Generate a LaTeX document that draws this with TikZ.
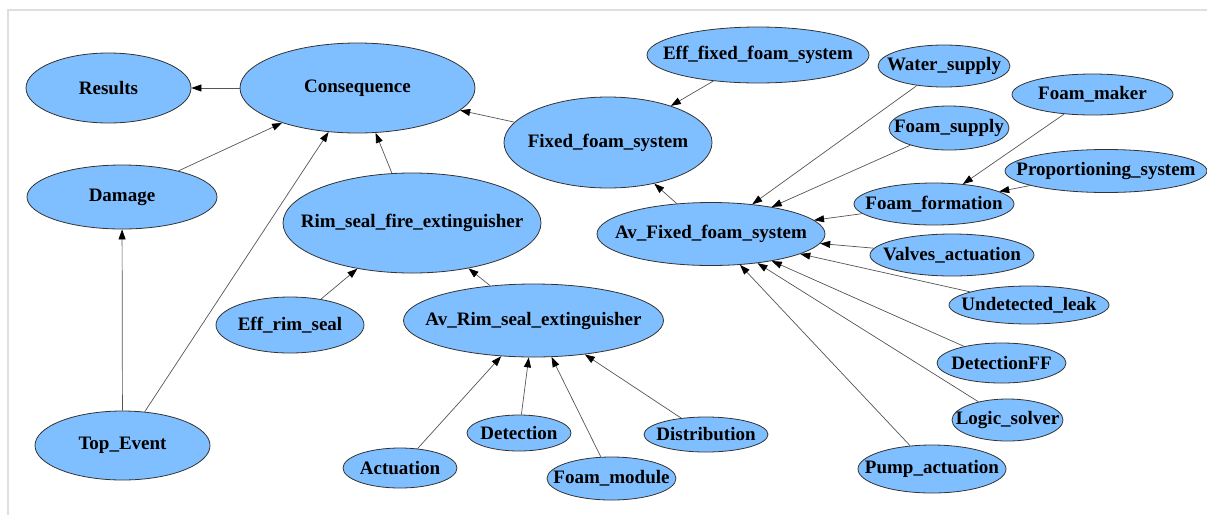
\documentclass[tikz,border=0pt]{standalone}
\usepackage{fontspec}
\setmainfont{Liberation Serif}
\usetikzlibrary{shapes.geometric, arrows.meta}

\definecolor{bnfill}{RGB}{128,191,255}
\definecolor{bnedge}{RGB}{85,85,85}
\newcommand{\bnlabel}[1]{\makebox[0pt]{#1}}

\begin{document}
\begin{tikzpicture}[x=1pt, y=-1pt,
    bn/.style 2 args={ellipse, draw=black!80, line width=0.8pt, fill=bnfill, inner sep=0pt,
      minimum width=#1, minimum height=#2, font=\bfseries\fontsize{19}{21}\selectfont},
    dep/.style={draw=bnedge, line width=0.7pt, -{Triangle[length=10pt, width=7pt, color=black]}}]
  %tikz  rete bayesiana, schiuma serbatoio
  \useasboundingbox (0,0) rectangle (1207,515);
  \draw[gray!25, line width=1.5pt] (8,515) -- (8,10) -- (1207,10);

  % left part
  \node[bn={165pt}{70pt}] (results) at (108.5,88) {\bnlabel{Results}};
  \node[bn={235pt}{90pt}] (consequence) at (357.5,88) {\bnlabel{Consequence}};
  \node[bn={190pt}{64pt}] (damage) at (122,197) {\bnlabel{Damage}};
  \node[bn={175pt}{69pt}] (topevent) at (122.5,445.5) {\bnlabel{Top\_Event}};
  \node[bn={258pt}{100pt}] (rimfire) at (412,223) {\bnlabel{Rim\_seal\_fire\_extinguisher}};
  \node[bn={148pt}{56pt}] (effrim) at (290,325) {\bnlabel{Eff\_rim\_seal}};
  \node[bn={260pt}{73pt}] (avrim) at (533.5,320.5) {\bnlabel{Av\_Rim\_seal\_extinguisher}};
  \node[bn={114pt}{40pt}] (actuation) at (400,468) {\bnlabel{Actuation}};
  \node[bn={104pt}{36pt}] (detection) at (519,433) {\bnlabel{Detection}};
  \node[bn={129pt}{43pt}] (foammodule) at (611.5,478.5) {\bnlabel{Foam\_module}};
  \node[bn={124pt}{35pt}] (distribution) at (706,434.5) {\bnlabel{Distribution}};

  % right part
  \node[bn={208pt}{91pt}] (fixedfoam) at (608,142.5) {\bnlabel{Fixed\_foam\_system}};
  \node[bn={222pt}{56pt}] (efffixed) at (758,55) {\bnlabel{Eff\_fixed\_foam\_system}};
  \node[bn={228pt}{63pt}] (avfixed) at (711,234) {\bnlabel{Av\_Fixed\_foam\_system}};
  \node[bn={132pt}{42pt}] (water) at (944,66) {\bnlabel{Water\_supply}};
  \node[bn={161pt}{41pt}] (foammaker) at (1092.5,94.5) {\bnlabel{Foam\_maker}};
  \node[bn={120pt}{44pt}] (foamsupply) at (949,128) {\bnlabel{Foam\_supply}};
  \node[bn={202pt}{43pt}] (proportioning) at (1106,171) {\bnlabel{Proportioning\_system}};
  \node[bn={160pt}{42pt}] (foamformation) at (934,204) {\bnlabel{Foam\_formation}};
  \node[bn={164pt}{42pt}] (valves) at (952,255) {\bnlabel{Valves\_actuation}};
  \node[bn={160pt}{38pt}] (leak) at (1029,305) {\bnlabel{Undetected\_leak}};
  \node[bn={129pt}{40pt}] (detectionff) at (1001.5,363) {\bnlabel{DetectionFF}};
  \node[bn={111pt}{42pt}] (logic) at (1007.5,420) {\bnlabel{Logic\_solver}};
  \node[bn={148pt}{48pt}] (pump) at (932,469) {\bnlabel{Pump\_actuation}};

  % dipendenze
  \draw[dep] (consequence) -- (results);
  \draw[dep] (topevent) -- (damage);
  \foreach \s in {damage,topevent,rimfire,fixedfoam}{
    \draw[dep] (\s) -- (consequence);
  }
  \foreach \s in {effrim,avrim}{
    \draw[dep] (\s) -- (rimfire);
  }
  \foreach \s in {actuation,detection,foammodule,distribution}{
    \draw[dep] (\s) -- (avrim);
  }
  \foreach \s in {efffixed,avfixed}{
    \draw[dep] (\s) -- (fixedfoam);
  }
  \foreach \s in {water,foamsupply,foamformation,valves,leak,detectionff,logic,pump}{
    \draw[dep] (\s) -- (avfixed);
  }
  \foreach \s in {foammaker,proportioning}{
    \draw[dep] (\s) -- (foamformation);
  }
\end{tikzpicture}
\end{document}
